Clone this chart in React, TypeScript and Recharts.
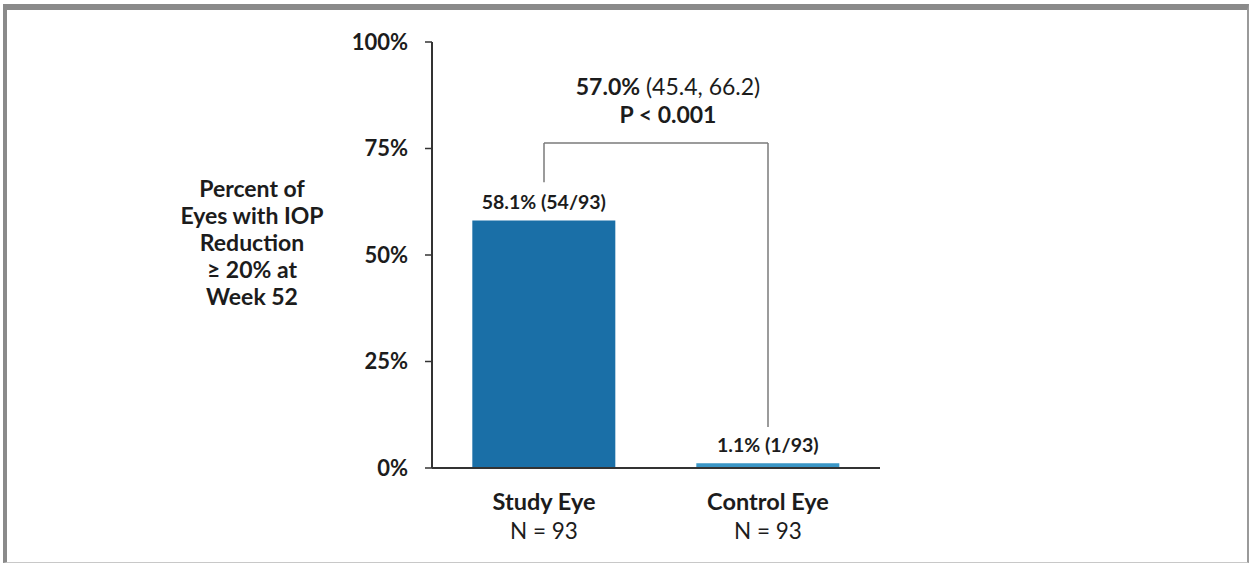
import React from 'react';
import { BarChart, Bar, XAxis, YAxis, Cell, LabelList, ReferenceLine, Label } from 'recharts';

// values
const categories = ['Study Eye', 'Control Eye'];
const percents = [58.1, 1.1];
const responders = [54, 1];
const totals = [93, 93];
const yTicks = [0, 25, 50, 75, 100];
const yLabelLines = ['Percent of', 'Eyes with IOP', 'Reduction', '\u2265 20% at', 'Week 52'];

// comparison bracket: left leg end, top, right leg end (in % units)
const bracketLeft = 67.1;
const bracketTop = 76.3;
const bracketRight = 9.6;
const diffValue = '57.0%';
const diffCI = '(45.4, 66.2)';
const pValue = 'P < 0.001';

const FONT = 'Lato, "Open Sans", sans-serif';
const TEXT = '#1c1c1c';
const BAR = '#1a6fa7';
const BAR_LIGHT = '#3a96c6';
const BRACKET = '#7a7a7a';

const data = categories.map((name, i) => ({
  name,
  pct: percents[i],
  label: `${percents[i].toFixed(1)}% (${responders[i]}/${totals[i]})`,
  n: totals[i],
}));

const XTick = (props: any) => {
  const { x, y, payload } = props;
  const row = data.find((d) => d.name === payload.value);
  return (
    <g>
      <text x={x} y={y + 25} textAnchor="middle" dominantBaseline="central" fontFamily={FONT} fontWeight={700} fontSize={23.5} fill={TEXT}>
        {payload.value}
      </text>
      <text x={x} y={y + 54} textAnchor="middle" dominantBaseline="central" fontFamily={FONT} fontSize={22.5} fill={TEXT}>
        N = {row ? row.n : ''}
      </text>
    </g>
  );
};

const YTitle = () => (
  <g>
    {yLabelLines.map((line, i) => (
      <text key={line} x={252} y={188 + i * 27} textAnchor="middle" dominantBaseline="central" fontFamily={FONT} fontWeight={700} fontSize={23} fill={TEXT}>
        {line}
      </text>
    ))}
  </g>
);

const BarLabel = (props: any) => {
  const { x, y, width, value } = props;
  return (
    <text x={x + width / 2} y={y - 19} textAnchor="middle" dominantBaseline="central" fontFamily={FONT} fontWeight={700} fontSize={19.5} fill={TEXT}>
      {value}
    </text>
  );
};

// the annotation sits a little right of the bracket's middle in the original
const BracketText = (props: any) => {
  const { viewBox } = props;
  const cx = viewBox.x + viewBox.width / 2 + 12;
  const top = viewBox.y;
  return (
    <g fontFamily={FONT} fontSize={23} fill={TEXT}>
      <text x={cx} y={top - 57} textAnchor="middle" dominantBaseline="central">
        <tspan fontWeight={700}>{diffValue}</tspan> {diffCI}
      </text>
      <text x={cx} y={top - 29} textAnchor="middle" dominantBaseline="central" fontWeight={700}>
        {pValue}
      </text>
    </g>
  );
};

export default function App() {
  return (
    <div style={{ position: 'absolute', left: 0, top: 0, width: 1252, height: 565, background: '#fff' }}>
      <div
        style={{
          position: 'absolute',
          left: 3,
          top: 4,
          width: 1246,
          height: 559,
          borderTop: '6px solid #8a8a8a',
          borderLeft: '4px solid #8a8a8a',
          borderRight: '2px solid #9a9a9a',
          borderBottom: '1px solid #c8c8c8',
          boxSizing: 'border-box',
        }}
      />
      <div style={{ position: 'absolute', left: 0, top: 0 }}>
        <BarChart width={1252} height={565} data={data} margin={{ top: 42, right: 372, bottom: 37, left: 372 }} barCategoryGap="18%">
          <XAxis dataKey="name" height={60} axisLine={{ stroke: '#333', strokeWidth: 2 }} tickLine={false} tick={<XTick />} />
          <YAxis
            width={60}
            domain={[0, 100]}
            ticks={yTicks}
            tickFormatter={(v: number) => `${v}%`}
            axisLine={{ stroke: '#333', strokeWidth: 2 }}
            tickLine={{ stroke: '#333', strokeWidth: 1.5 }}
            tickSize={7}
            tickMargin={17}
            tick={{ fontFamily: FONT, fontWeight: 700, fontSize: 22, fill: TEXT }}
            interval={0}
          >
            <Label content={<YTitle />} />
          </YAxis>
          <Bar dataKey="pct" isAnimationActive={false}>
            {data.map((d, i) => (
              <Cell key={d.name} fill={i === 0 ? BAR : BAR_LIGHT} />
            ))}
            <LabelList dataKey="label" content={<BarLabel />} />
          </Bar>
          <ReferenceLine
            segment={[{ x: categories[0], y: bracketLeft }, { x: categories[0], y: bracketTop }]}
            stroke={BRACKET}
            strokeWidth={1.5}
          />
          <ReferenceLine
            segment={[{ x: categories[0], y: bracketTop }, { x: categories[1], y: bracketTop }]}
            stroke={BRACKET}
            strokeWidth={1.5}
          >
            <Label content={<BracketText />} />
          </ReferenceLine>
          <ReferenceLine
            segment={[{ x: categories[1], y: bracketTop }, { x: categories[1], y: bracketRight }]}
            stroke={BRACKET}
            strokeWidth={1.5}
          />
        </BarChart>
      </div>
    </div>
  );
}
